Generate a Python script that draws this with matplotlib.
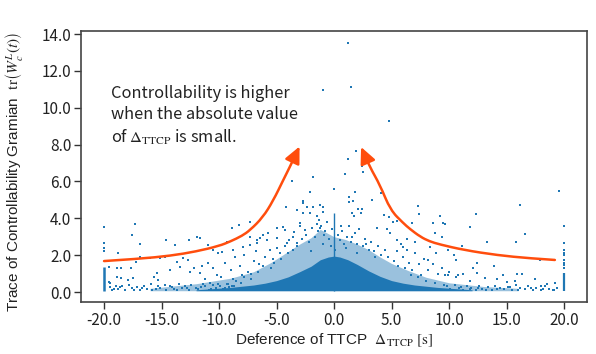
import numpy as np
import matplotlib
matplotlib.use('Agg')
import matplotlib.pyplot as plt
from matplotlib.path import Path
from matplotlib.patches import FancyArrowPatch

plt.rcParams['font.family'] = ['Noto Sans CJK JP', 'DejaVu Sans']
plt.rcParams['mathtext.fontset'] = 'stix'
plt.rcParams['axes.unicode_minus'] = False

# 散点（稀疏部分，从图上读取）
pts_x = [1.25, 1.48, -0.98, 4.81, 1.91, 1.25, 2.43, 2.49, 0.96, -1.8, -3.65, 0.0, -2.09, 1.86, 4.1,
         -2.73, 1.27, 3.28, 1.27, 1.68, -4.2, -2.38, -1.8, -1.22, -0.93, -3.24, -2.67, -2.67, -2.09, -1.5,
         -1.0, 2.1, 2.3, 1.7, 2.41, 1.54, 4.3, 4.8, 7.33, 7.4, 9.22, 9.65, 12.35, 16.2, 11.8,
         8.6, 9.5, 8.78, 9.36, 13.3, 15.8, 16.6, 11.1, 9.94, 10.4, 10.6, 12.4, 13.9, 17.9, 19.6,
         5.1, 5.5, 6.75, 3.7, 4.6, 4.9, 5.45, 6.0, 6.3, 7.0, 8.35, 8.2, 8.9,
         -7.3, -8.3, -8.9, -4.4, -3.5, -2.96, -2.5, -6.2, -5.85, -6.7, -7.3, -7.9, -8.76, -10.93, -10.5,
         -10.06, -9.77, -9.33, -7.3, -6.72, -6.43, -5.71, -4.98, -4.98, -4.26, -3.54, -4.11, -3.24, -2.96,
         -14.6, -13.8, -12.6, -11.9, -11.7, -16.0, -15.1, -14.7, -13.7, -13.1, -12.7, -12.2, -11.5, -11.65,
         -12.5, -13.4, -14.3, -15.4, -15.7, -15.3, -17.3, -17.6, -16.9, -16.9, -17.2, -18.75, -19.6, -18.9,
         -18.5, -17.7, -18.9, -18.5, -17.9, -17.45, -19.5, -19.6, -20.0, -20.0, -20.0, -20.0,
         -9.5, -9.0, -8.6, -8.2, -7.8, -7.5, -7.0, -6.8, -6.5, -6.0, -5.6, -5.3, -5.0, -4.7, -10.5, -10.2,
         -11.0, -9.8, -8.8, -8.0, -7.2, -11.2, -10.8,
         5.5, 6.0, 6.5, 7.0, 7.4, 7.8, 8.2, 8.6, 9.0, 9.4, 10.0, 10.6, 11.2, 11.8, 6.8, 7.6, 5.8, 6.3,
         9.65, 9.94, 10.8, 12.1, 12.4, 13.1, 14.15, 14.7, 15.9, 16.3, 15.0, 15.7, 17.5, 18.5, 19.2, 18.0,
         20.0, 20.0, 20.0, 20.0, 20.0, 20.0, 20.0, 20.0, 20.0]
pts_y = [13.5, 11.14, 10.96, 9.28, 7.65, 7.2, 6.85, 6.53, 6.39, 6.26, 6.05, 5.57, 5.44, 5.42, 5.35,
         4.96, 4.9, 5.0, 5.17, 4.92, 4.62, 4.63, 4.63, 4.72, 4.6, 4.45, 4.81, 4.27, 4.27, 4.15,
         4.35, 4.5, 4.3, 4.1, 4.49, 4.27, 4.2, 4.05, 4.67, 4.25, 4.12, 3.69, 4.25, 4.74, 3.51,
         3.72, 3.73, 3.18, 3.0, 2.7, 2.73, 3.15, 2.5, 2.28, 2.0, 1.74, 1.56, 1.42, 1.74, 5.5,
         3.8, 3.85, 3.76, 3.46, 3.4, 3.18, 2.82, 2.46, 2.28, 2.73, 2.46, 1.74, 2.1,
         3.81, 3.62, 3.46, 3.54, 3.27, 3.6, 3.36, 3.1, 2.8, 2.82, 2.55, 2.46, 2.28, 2.55, 2.28,
         2.1, 2.19, 2.73, 3.0, 2.64, 2.91, 3.18, 3.46, 2.91, 3.36, 3.0, 2.64, 2.64, 3.73,
         2.82, 2.55, 2.82, 2.97, 2.91, 1.83, 1.83, 1.92, 1.65, 1.83, 1.74, 1.28, 1.41, 1.01,
         1.1, 1.37, 1.19, 1.01, 0.83, 0.65, 3.69, 3.09, 2.59, 1.92, 1.65, 2.13, 1.37, 1.28,
         1.28, 1.28, 0.83, 0.74, 0.65, 0.74, 0.47, 0.56, 3.54, 2.64, 2.37, 2.24,
         1.6, 1.2, 1.9, 1.4, 2.0, 1.1, 1.7, 2.2, 1.5, 1.9, 2.3, 1.8, 2.4, 2.1, 1.3, 0.9,
         1.6, 0.8, 0.7, 0.9, 0.7, 0.7, 0.5,
         2.2, 1.9, 1.6, 2.1, 1.5, 1.8, 1.2, 1.5, 1.0, 1.3, 1.1, 0.8, 1.0, 0.6, 1.2, 0.9, 2.6, 2.9,
         0.92, 0.92, 0.92, 1.28, 1.01, 0.74, 0.69, 0.92, 0.98, 0.98, 0.56, 0.6, 0.7, 0.45, 0.5, 0.3,
         1.3, 1.45, 1.6, 1.75, 2.0, 2.1, 2.3, 2.65, 3.58]

# 中心附近的中等密度点
mid_x = [-2.8, -2.4, -2.2, -1.9, -1.7, -1.5, -1.3, -1.1, -0.8, -0.6, -0.4, -0.2, 0.3, 0.5, 0.7, 0.9,
         1.1, 1.3, 1.5, 1.8, 2.0, 2.2, 2.5, 2.7, 3.0, 3.2, 3.5, 3.8, 4.1, 4.4, 4.7, -3.2, -3.6, -4.0,
         -4.3, -4.6, -5.2, -5.5, -6.2, -6.6, -7.2, -7.8, -8.5, -9.2, 5.2, 5.6, 6.2, 6.7, 7.3, 8.0, 8.8,
         9.6, -0.3, 0.1, -1.0, 1.0, -2.0, 2.0, -1.4, -1.2, -0.9, 0.6, 1.6, 2.8, -3.9, 3.6]
mid_y = [2.9, 3.1, 2.7, 3.5, 3.0, 3.7, 3.9, 3.6, 3.3, 3.8, 2.9, 3.4, 3.1, 2.8, 3.3, 2.6,
         3.0, 3.6, 2.7, 3.2, 2.6, 3.4, 2.5, 2.9, 2.3, 2.7, 2.2, 2.5, 2.0, 2.3, 1.9, 2.5, 2.3, 2.1,
         2.5, 1.8, 1.6, 1.3, 1.4, 1.1, 1.0, 0.8, 0.6, 0.45, 1.7, 1.4, 1.3, 0.9, 0.8, 0.6, 0.5,
         0.4, 2.5, 2.3, 2.6, 2.4, 2.2, 2.1, 3.3, 3.5, 3.1, 3.6, 3.0, 2.6, 2.8, 1.9]

# 底部稀疏带
band_x = [-19.5, -19.3, -19.0, -18.8, -18.4, -18.2, -17.8, -17.6, -17.1, -16.9, -16.5, -16.3, -15.9,
          -15.8, -15.3, -15.1, -14.7, -14.6, -14.1, -13.9, -13.5, -13.2, -13.0, -12.6, -12.4, -12.0,
          -11.8, -11.4, -11.2, -10.9, -10.5, -10.3, -9.9, -9.7, -9.3, -9.1, -8.7, -8.4, -8.1,
          -19.1, -18.6, -17.4, -16.7, -15.5, -14.3, -13.7, -12.8, -11.6, -10.7, -10.1, -9.5, -8.9,
          9.8, 10.1, 10.5, 10.9, 11.2, 11.6, 11.9, 12.3, 12.6, 12.9, 13.4, 13.7, 14.0, 14.4, 14.8,
          15.1, 15.5, 15.8, 16.2, 16.6, 16.9, 17.3, 17.6, 18.0, 18.3, 18.7, 19.0, 19.4,
          10.3, 11.0, 11.8, 12.5, 13.2, 14.2, 15.3, 16.0, 17.1, 18.2, 19.1]
band_y = [0.25, 0.1, 0.35, 0.15, 0.3, 0.12, 0.4, 0.2, 0.28, 0.1, 0.33, 0.18, 0.45,
          0.12, 0.3, 0.22, 0.38, 0.1, 0.26, 0.15, 0.42, 0.2, 0.3, 0.12, 0.36, 0.24,
          0.16, 0.44, 0.3, 0.12, 0.38, 0.2, 0.3, 0.15, 0.46, 0.25, 0.35, 0.18, 0.5,
          0.18, 0.28, 0.12, 0.22, 0.16, 0.32, 0.1, 0.2, 0.26, 0.14, 0.42, 0.22, 0.3,
          0.3, 0.15, 0.38, 0.2, 0.12, 0.3, 0.22, 0.1, 0.35, 0.18, 0.26, 0.12, 0.32, 0.2, 0.15,
          0.28, 0.1, 0.36, 0.2, 0.14, 0.3, 0.12, 0.24, 0.1, 0.3, 0.16, 0.12, 0.22,
          0.12, 0.28, 0.16, 0.22, 0.12, 0.18, 0.25, 0.12, 0.2, 0.14, 0.1]

# 密集区轮廓（核心与外圈）
core_x = [-12, -9, -7, -6, -5, -4, -3, -2, -1.2, -0.5, 0, 0.5, 1.2, 2, 3, 4, 5, 6, 7, 9, 12]
core_top = [0.12, 0.25, 0.38, 0.48, 0.62, 0.82, 1.1, 1.4, 1.75, 1.9, 1.95, 1.9, 1.75, 1.5, 1.15,
            0.85, 0.62, 0.48, 0.38, 0.25, 0.12]
halo_x = [-16, -12, -9, -7, -5.5, -4, -3, -2, -1.2, -0.6, 0, 1, 2, 3, 4, 5, 6.5, 8, 10, 13, 16]
halo_top = [0.2, 0.45, 0.75, 1.1, 1.6, 2.2, 2.6, 2.95, 3.4, 3.2, 3.0, 2.85, 2.6, 2.3, 1.9, 1.55,
            1.15, 0.8, 0.5, 0.3, 0.2]
base_y = 0.07

# 竖直条纹
streak_x = [-20, 0, 20]
streak_hi = [1.38, 4.3, 1.05]
streak_w = [1.8, 1.0, 1.6]

# 箭头曲线（控制点）
left_cx = [-20, -17, -14.2, -12, -10, -9, -8, -7.3, -6.2, -5.3, -4.4, -3.8, -3.0]
left_cy = [1.68, 1.8, 1.97, 2.2, 2.5, 2.75, 3.05, 3.36, 4.05, 4.95, 6.1, 6.85, 7.9]
right_cx = [19.2, 17.0, 14.2, 11.3, 9.2, 8.3, 7.5, 6.6, 6.0, 4.9, 4.0, 3.1, 2.35]
right_cy = [1.74, 1.83, 2.0, 2.28, 2.58, 2.75, 3.0, 3.42, 3.75, 4.45, 5.8, 6.8, 7.87]

xticks = [-20, -15, -10, -5, 0, 5, 10, 15, 20]
yticks = [0, 2, 4, 6, 8, 10, 12, 14]

blue = '#1f77b4'
orange = '#ff4d0d'


def smooth_path(xs, ys):
    # 用二次贝塞尔把折线变平滑
    p = list(zip(xs, ys))
    verts = [p[0]]
    codes = [Path.MOVETO]
    for i in range(1, len(p) - 1):
        mid = ((p[i][0] + p[i + 1][0]) / 2, (p[i][1] + p[i + 1][1]) / 2)
        verts += [p[i], mid]
        codes += [Path.CURVE3, Path.CURVE3]
    verts.append(p[-1])
    codes.append(Path.LINETO)
    return Path(verts, codes)


fig = plt.figure(figsize=(5.96, 3.54), dpi=100)
ax = fig.add_axes([0.136, 0.147, 0.849, 0.765])

ax.fill_between(halo_x, base_y, halo_top, color=blue, alpha=0.45, lw=0, zorder=1)
ax.fill_between(core_x, base_y, core_top, color=blue, lw=0, zorder=2)
for sx, sh, sw in zip(streak_x, streak_hi, streak_w):
    ax.vlines(sx, base_y, sh, color=blue, lw=sw, zorder=3)
ax.scatter(band_x, band_y, s=2.5, marker='s', color=blue, linewidths=0, zorder=3)
ax.scatter(mid_x, mid_y, s=2.5, marker='s', color=blue, linewidths=0, zorder=3)
ax.scatter(pts_x, pts_y, s=2.5, marker='s', color=blue, linewidths=0, zorder=3)

for cx, cy in [(left_cx, left_cy), (right_cx, right_cy)]:
    arrow = FancyArrowPatch(path=smooth_path(cx, cy),
                            arrowstyle='-|>,head_length=1.0,head_width=0.47',
                            mutation_scale=10, color=orange, lw=1.8,
                            joinstyle='round', capstyle='round', zorder=5)
    ax.add_patch(arrow)

ax.text(-19.4, 11.25, 'Controllability is higher\nwhen the absolute value\nof $\\Delta_{\\mathrm{TTCP}}$ is small.',
        ha='left', va='top', fontsize=11.8, linespacing=1.32, color='#222222')

ax.set_xlim(-22, 22)
ax.set_ylim(-0.54, 14.16)
ax.set_xticks(xticks)
ax.set_yticks(yticks)
ax.set_xticklabels([f'{t:.1f}' for t in xticks])
ax.set_yticklabels([f'{t:.1f}' for t in yticks])
ax.tick_params(labelsize=11, length=5, width=1, color='#333333', labelcolor='#222222', pad=2)
for sp in ax.spines.values():
    sp.set_color('#444444')
    sp.set_linewidth(1.2)

ax.set_xlabel('Deference of TTCP  $\\Delta_{\\mathrm{TTCP}}\\ [\\mathrm{s}]$',
              fontsize=11, family=['Liberation Sans', 'DejaVu Sans'], color='#222222', labelpad=2)
ax.set_ylabel('Trace of Controllability Gramian  $\\mathrm{tr}\\left(W_c^L(t)\\right)$',
              fontsize=11, family=['Liberation Sans', 'DejaVu Sans'], color='#222222')
ax.yaxis.set_label_coords(-0.11, 0.48)

plt.savefig('out.png', dpi=100)
